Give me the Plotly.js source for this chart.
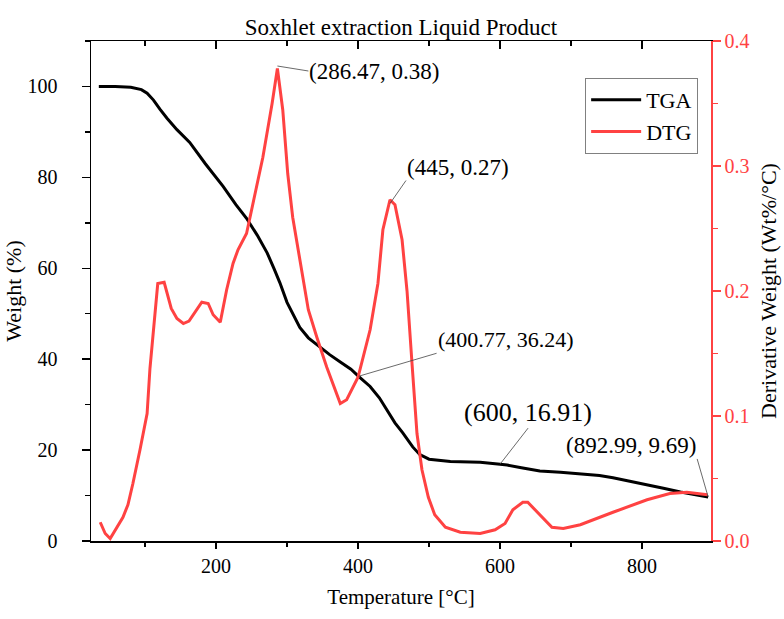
<!DOCTYPE html>
<html>
<head>
<meta charset="utf-8">
<script src="https://cdn.plot.ly/plotly-3.0.1.min.js"></script>
<style>html,body{margin:0;padding:0;background:#fff;}#chart{width:784px;height:619px;}</style>
</head>
<body>
<div id="chart"></div>
<script>
// TGA data (Temperature °C, Weight %)
const tgaTemp = [35, 58, 80, 95, 103, 112, 121, 131, 145, 163, 185, 210, 228, 243, 258, 272, 282, 290, 300, 310, 318, 330, 346, 360, 375, 390, 400.77, 410, 417, 430, 441, 452, 463, 477, 487, 500, 530, 572, 600, 610, 630, 656, 685, 713, 740, 759, 785, 807, 830, 854, 875, 892.99];
const tgaWeight = [100, 100, 99.8, 99.3, 98.5, 97, 95, 93, 90.5, 87.7, 83, 78, 74, 71, 67.3, 63.4, 59.8, 56.8, 52.5, 49.3, 47, 44.7, 42.7, 41, 39.4, 37.8, 36.24, 35, 34, 31.5, 28.9, 26, 23.8, 20.7, 19, 18, 17.5, 17.3, 16.91, 16.7, 16.1, 15.4, 15.1, 14.8, 14.4, 13.9, 13.1, 12.3, 11.6, 10.8, 10.2, 9.69];

// DTG data (Temperature °C, Derivative weight Wt%/°C)
const dtgTemp = [37, 44, 51, 60, 69, 76, 83, 93, 103, 107, 118, 127, 137, 145, 154, 162, 170, 180, 189, 196, 206, 215, 224, 231, 243, 266, 279, 286.47, 294, 301, 308, 323, 330, 342, 356, 375, 384, 400, 417, 428, 435, 445, 452, 462, 469, 476, 483, 490, 499, 508, 523, 544, 572, 593, 607, 618, 632, 639, 656, 673, 689, 713, 759, 807, 839, 863, 892];
const dtgValue = [0.015, 0.006, 0.002, 0.010, 0.019, 0.029, 0.046, 0.073, 0.102, 0.138, 0.206, 0.207, 0.186, 0.178, 0.174, 0.176, 0.183, 0.191, 0.190, 0.181, 0.175, 0.201, 0.222, 0.233, 0.246, 0.307, 0.350, 0.378, 0.345, 0.294, 0.259, 0.206, 0.185, 0.163, 0.139, 0.110, 0.113, 0.131, 0.169, 0.206, 0.249, 0.273, 0.269, 0.241, 0.200, 0.142, 0.086, 0.057, 0.035, 0.021, 0.011, 0.007, 0.006, 0.009, 0.014, 0.025, 0.031, 0.031, 0.021, 0.011, 0.010, 0.013, 0.023, 0.033, 0.038, 0.039, 0.037];

// Annotated points
const annX = [286.47, 445, 400.77, 600, 892.99];
const annY = [0.38, 0.27, 36.24, 16.91, 9.69];
const annText = ['(286.47, 0.38)', '(445, 0.27)', '(400.77, 36.24)', '(600, 16.91)', '(892.99, 9.69)'];

const RED = '#FF4242';
const FONT = 'Liberation Serif, Times New Roman, serif';
const XR = [24, 897];

const traces = [
  {x: tgaTemp, y: tgaWeight, name: 'TGA', type: 'scatter', mode: 'lines',
   line: {color: '#000000', width: 3}, xaxis: 'x', yaxis: 'y'},
  {x: dtgTemp, y: dtgValue, name: 'DTG', type: 'scatter', mode: 'lines',
   line: {color: RED, width: 3}, xaxis: 'x', yaxis: 'y2'},
  {x: [null], y: [null], xaxis: 'x2', yaxis: 'y', showlegend: false, hoverinfo: 'skip', mode: 'lines'}
];

const annStyle = [
  {yref: 'y2', ax: 31, ay: 5, xanchor: 'left', yanchor: 'middle', size: 23},
  {yref: 'y2', ax: 16, ay: -23, xanchor: 'left', yanchor: 'bottom', size: 23},
  {yref: 'y', ax: 78, ay: -23, xanchor: 'left', yanchor: 'bottom', size: 22},
  {yref: 'y', ax: 28, ay: -36, xanchor: 'center', yanchor: 'bottom', size: 26},
  {yref: 'y', ax: -11, ay: -38, xanchor: 'right', yanchor: 'bottom', size: 23}
];
const annotations = annX.map((x, i) => ({
  x: x, y: annY[i], xref: 'x', yref: annStyle[i].yref, text: annText[i],
  showarrow: true, arrowhead: 0, arrowwidth: 0.8, arrowcolor: '#444',
  ax: annStyle[i].ax, ay: annStyle[i].ay, xanchor: annStyle[i].xanchor, yanchor: annStyle[i].yanchor,
  borderpad: 0, standoff: 0, startstandoff: 0,
  font: {family: FONT, size: annStyle[i].size, color: '#000'}
}));

const layout = {
  width: 784, height: 619,
  margin: {l: 91, r: 73, t: 41, b: 78, pad: 0},
  paper_bgcolor: '#fff', plot_bgcolor: '#fff',
  font: {family: FONT, size: 20, color: '#000'},
  title: {text: 'Soxhlet extraction Liquid Product', font: {family: FONT, size: 23, color: '#000'},
          x: 0.5, xref: 'paper', xanchor: 'center', y: 1 - 27/619, yref: 'container', yanchor: 'middle'},
  showlegend: true,
  legend: {x: 0.797, y: 0.926, xanchor: 'left', yanchor: 'top', bgcolor: '#fff',
           bordercolor: '#808080', borderwidth: 1, font: {family: FONT, size: 22, color: '#000'},
           tracegroupgap: 0, itemwidth: 50},
  xaxis: {range: XR, showgrid: false, zeroline: false, showline: true, linecolor: '#000', linewidth: 1.5,
          ticks: 'outside', ticklen: 6, tickwidth: 1.5, tickcolor: '#000', tick0: 0, dtick: 200,
          minor: {dtick: 100, tick0: 0, ticks: 'outside', ticklen: 4, tickwidth: 1.5, tickcolor: '#000'},
          tickfont: {family: FONT, size: 20},
          title: {text: 'Temperature [°C]', font: {family: FONT, size: 21}, standoff: 14}},
  xaxis2: {range: XR, overlaying: 'x', side: 'top', anchor: 'y', showgrid: false, zeroline: false,
           showline: true, linecolor: '#000', linewidth: 1.5, showticklabels: false,
           ticks: 'inside', ticklen: 8, tickwidth: 1.5, tickcolor: '#000', tick0: 0, dtick: 200,
           minor: {dtick: 100, tick0: 0, ticks: 'inside', ticklen: 5, tickwidth: 1.5, tickcolor: '#000'}},
  yaxis: {range: [0, 110], showgrid: false, zeroline: false, showline: true, linecolor: '#000', linewidth: 1.5,
          ticks: 'outside', ticklen: 8, tickwidth: 1.5, tickcolor: '#000', tick0: 0, dtick: 20,
          minor: {dtick: 10, tick0: 0, ticks: 'outside', ticklen: 5, tickwidth: 1.5, tickcolor: '#000'},
          tickfont: {family: FONT, size: 20}, ticklabelstandoff: 20,
          title: {text: 'Weight (%)', font: {family: FONT, size: 22}, standoff: 0}},
  yaxis2: {range: [0, 0.4], overlaying: 'y', side: 'right', anchor: 'x', showgrid: false, zeroline: false,
           showline: true, linecolor: RED, linewidth: 1.5,
           ticks: 'outside', ticklen: 8, tickwidth: 1.5, tickcolor: RED, tick0: 0, dtick: 0.1, tickformat: '.1f',
           minor: {dtick: 0.05, tick0: 0, ticks: 'outside', ticklen: 5, tickwidth: 1.5, tickcolor: RED},
           tickfont: {family: FONT, size: 20, color: RED},
           title: {text: 'Derivative Weight (Wt%/°C)', font: {family: FONT, size: 22, color: '#000'}, standoff: 12}},
  annotations: annotations
};

Plotly.newPlot('chart', traces, layout, {displayModeBar: false, staticPlot: true});
</script>
</body>
</html>
